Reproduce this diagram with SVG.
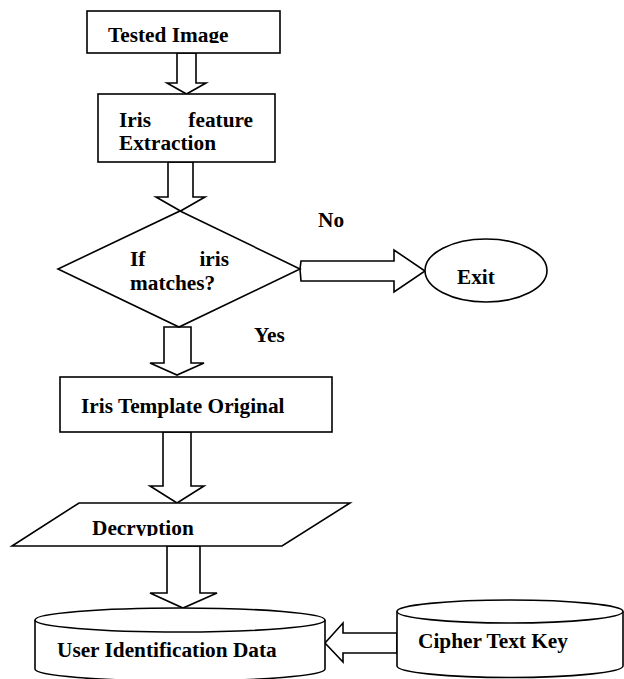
<svg xmlns="http://www.w3.org/2000/svg" width="624" height="679" viewBox="0 0 624 679">
<style>
.s{fill:#fff;stroke:#000;stroke-width:1.6;stroke-linejoin:miter}
.a{fill:#fff;stroke:#000;stroke-width:1.6;stroke-linejoin:miter}
.t{font-family:"Liberation Serif","Times New Roman",serif;font-weight:bold;font-size:21.3px;fill:#000}
</style>
<defs>
<clipPath id="c1"><rect x="80" y="0" width="210" height="43"/></clipPath>
<clipPath id="c2"><rect x="0" y="500" width="360" height="36"/></clipPath>
</defs>
<rect width="624" height="679" fill="#fff"/>
<g id="connectors">
<polygon class="a" points="177,53 196,53 196,83 206,83 186.5,94 167,83 177,83"/>
<polygon class="a" points="168,162 193,162 193,197 205,197 180.5,211 156,197 168,197"/>
<polygon class="a" points="300,269 301,261 394,261 394,250 425,271 394,292 394,281 301,281"/>
<polygon class="a" points="164,327 191,327 191,363 204,363 177,375 150,363 164,363"/>
<polygon class="a" points="163,432 191,432 191,486 204,486 177,503 150,486 163,486"/>
<polygon class="a" points="167,546 200,546 200,593 217,593 183,608 150,593 167,593"/>
<polygon class="a" points="397,633 343,633 343,623 325,643 343,662 343,653 397,653"/>
<text class="t" x="318" y="227">No</text>
<text class="t" x="254" y="342">Yes</text>
</g>
<g id="tested">
<rect class="s" x="87" y="11" width="193" height="42"/>
<text class="t" x="108" y="42" clip-path="url(#c1)">Tested Image</text>
</g>
<g id="feature">
<rect class="s" x="98" y="94" width="177" height="68"/>
<text class="t" x="119" y="127">Iris</text>
<text class="t" x="253" y="127" text-anchor="end">feature</text>
<text class="t" x="119" y="150">Extraction</text>
</g>
<g id="decision">
<polygon class="s" points="180,211 300,269 179,327 58,269"/>
<text class="t" x="130" y="266">If</text>
<text class="t" x="229" y="266" text-anchor="end">iris</text>
<text class="t" x="130" y="290">matches?</text>
</g>
<g id="exit">
<ellipse class="s" cx="486" cy="270.5" rx="61" ry="31.5"/>
<text class="t" x="457" y="284">Exit</text>
</g>
<g id="template">
<rect class="s" x="60" y="377" width="272" height="55"/>
<text class="t" x="81" y="413">Iris Template Original</text>
</g>
<g id="decryption">
<polygon class="s" points="79,503 350,503 282,546 12,546"/>
<text class="t" x="92" y="535" clip-path="url(#c2)">Decryption</text>
</g>
<g id="userdata">
<path class="s" d="M35,620 L35,669 A145,12 0 0 0 325,669 L325,620"/>
<ellipse class="s" cx="180" cy="620" rx="145" ry="12"/>
<text class="t" x="57" y="657">User Identification Data</text>
</g>
<g id="cipher">
<path class="s" d="M397,611.5 L397,666 A113,11.5 0 0 0 623,666 L623,611.5"/>
<ellipse class="s" cx="510" cy="611.5" rx="113" ry="11.5"/>
<text class="t" x="418" y="648">Cipher Text Key</text>
</g>
</svg>
